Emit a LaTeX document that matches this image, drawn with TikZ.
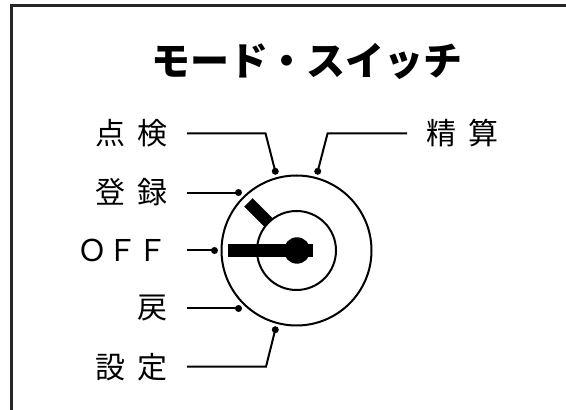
\documentclass[tikz,border=0pt]{standalone}
\usepackage{fontspec}
\newfontfamily\jpfont{Noto Sans CJK JP}
\tikzset{
  lbl/.style={inner sep=0pt, font=\jpfont\fontsize{30}{36}\selectfont},
  wire/.style={line width=2pt},
  keybar/.style={line width=12pt},
}
\newcommand{\gap}{\hspace{12pt}}
\begin{document}
\begin{tikzpicture}[x=1pt, y=1pt]
    \useasboundingbox (0, 0) rectangle (566, 410) ;
    \fill[white] (0, 0) rectangle (566, 410) ;
    % frame, cut off at the right and bottom
    \draw[line width=2.5pt, color={black!85}] (11.5, 0) -- (11.5, 404.7) -- (566, 404.7) ;
    \node[font=\jpfont\bfseries\fontsize{39}{44}\selectfont, inner sep=0pt] (title) at (307, 349) {モード・スイッチ} ;
    % switch body
    \coordinate (C) at (296.5, 159.5) ;
    \draw[wire] (C) circle (75) ;
    \draw[wire] (C) circle (39.5) ;
    \fill (C) ++(0.5, 0) circle (13.2) ;
    \fill (228, 153.3) rectangle (313, 165.7) ;
    \draw[keybar] (C) ++(135:39) -- ++(135:29) ;
    % contact points
    \foreach \name/\ang in {dten/105, dsei/75, dtou/135, doff/180, dmod/225, dset/255}
      \fill (C) ++(\ang:82) coordinate (\name) circle (3.5) ;
    % labels
    \node[lbl, anchor=east] (tenken) at (168, 276.7) {点\gap 検} ;
    \node[lbl, anchor=east] (touroku) at (168, 0 |- dtou) {登\gap 録} ;
    \node[lbl, anchor=east] (off) at (168, 0 |- doff) {ＯＦＦ} ;
    \node[lbl, anchor=east] (modosi) at (168, 0 |- dmod) {戻} ;
    \node[lbl, anchor=east] (settei) at (168, 43.3) {設\gap 定} ;
    \node[lbl, anchor=west] (seisan) at (426, 276.7) {精\gap 算} ;
    % leader lines
    \draw[wire] ([xshift=19pt]tenken.east) -- ++(78.5, 0) -- (dten) ;
    \draw[wire] ([xshift=19pt]touroku.east) -- (dtou) ;
    \draw[wire] ([xshift=19pt]off.east) -- (doff) ;
    \draw[wire] ([xshift=19pt]modosi.east) -- (dmod) ;
    \draw[wire] ([xshift=19pt]settei.east) -- ++(79, 0) -- (dset) ;
    \draw[wire] ([xshift=-19pt]seisan.west) -- ++(-79.4, 0) -- (dsei) ;
\end{tikzpicture}
\end{document}
